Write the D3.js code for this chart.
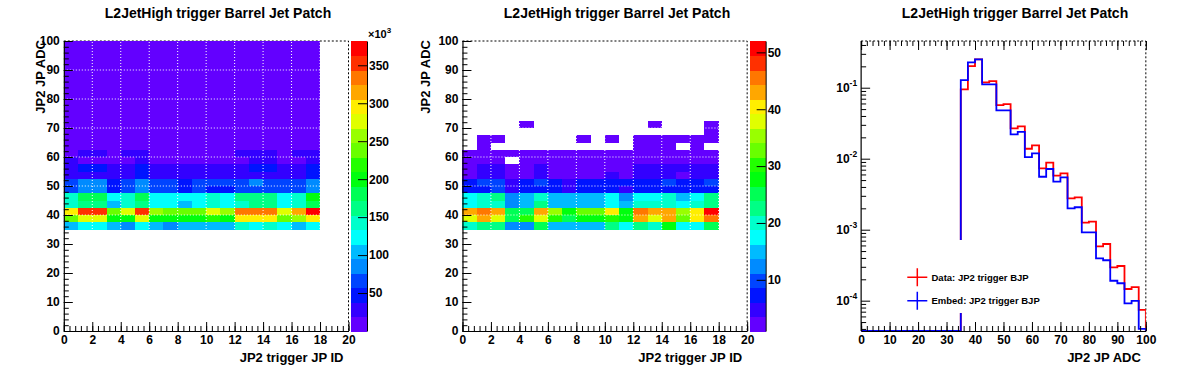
<!DOCTYPE html>
<html>
<head>
<meta charset="utf-8">
<script src="https://cdn.jsdelivr.net/npm/d3@7"></script>
<style>
  body { margin: 0; background: #fff; }
  svg text { font-family: "Liberation Sans", Arial, sans-serif; font-weight: bold; fill: #000; }
</style>
</head>
<body>
<svg id="chart" width="1196" height="372"></svg>
<script>
// ---- data ----
const jpIds = [0, 1, 2, 3, 4, 5, 6, 7, 8, 9, 10, 11, 12, 13, 14, 15, 16, 17];
const adcBins = [35, 37.5, 40, 42.5, 45, 47.5, 50, 52.5, 55, 57.5, 60, 62.5, 65, 67.5, 70,
                 72.5, 75, 77.5, 80, 82.5, 85, 87.5, 90, 92.5, 95, 97.5];
const adcBinWidth = 2.5;

// data counts per (ADC bin, JP ID), in units of 10^3
const dataCounts = [
  [105, 125, 122, 108, 88, 126, 104, 90, 106, 103, 107, 105, 145, 127, 142, 124, 106, 128],
  [238, 280, 276, 205, 202, 278, 198, 204, 201, 203, 222, 199, 297, 294, 298, 240, 259, 296],
  [295, 356, 352, 240, 279, 354, 258, 241, 238, 242, 276, 260, 336, 333, 335, 278, 316, 375],
  [144, 163, 160, 107, 146, 165, 124, 122, 108, 125, 144, 126, 145, 161, 164, 123, 142, 183],
  [146, 182, 180, 126, 143, 184, 124, 127, 123, 125, 145, 128, 163, 165, 162, 126, 147, 202],
  [68, 88, 86, 50, 66, 89, 67, 65, 52, 68, 51, 49, 67, 69, 66, 68, 67, 87],
  [70, 90, 87, 53, 70, 91, 69, 68, 55, 70, 66, 67, 68, 88, 69, 67, 70, 89],
  [32, 34, 33, 30, 31, 48, 31, 30, 29, 30, 31, 30, 32, 33, 31, 30, 32, 50],
  [28, 40, 39, 27, 26, 41, 25, 24, 23, 24, 25, 24, 26, 39, 40, 25, 26, 42],
  [21, 17, 17, 15, 16, 22, 14, 14, 13, 14, 15, 14, 16, 21, 21, 15, 16, 22],
  [16, 21, 21, 14, 20, 21, 13, 13, 12, 13, 14, 13, 20, 21, 21, 14, 20, 22],
  [9.5, 10.2, 9.8, 8.1, 9.0, 10.4, 8.3, 8.0, 7.6, 8.2, 8.9, 8.1, 9.6, 10.1, 9.9, 8.4, 9.2, 10.6],
  [11.2, 12.0, 11.5, 9.6, 10.5, 12.3, 9.8, 9.4, 9.0, 9.7, 10.4, 9.5, 11.3, 11.9, 11.6, 9.9, 10.8, 12.5],
  [7.3, 7.9, 7.6, 6.2, 6.9, 8.1, 6.4, 6.1, 5.9, 6.3, 6.8, 6.2, 7.4, 7.8, 7.6, 6.5, 7.1, 8.2],
  [8.0, 8.6, 8.2, 6.8, 7.5, 8.8, 7.0, 6.7, 6.4, 6.9, 7.4, 6.8, 8.1, 8.5, 8.3, 7.1, 7.7, 8.9],
  [3.5, 3.8, 3.6, 3.0, 3.3, 3.9, 3.1, 2.9, 2.8, 3.0, 3.2, 3.0, 3.5, 3.7, 3.6, 3.1, 3.4, 3.9],
  [3.6, 3.9, 3.7, 3.1, 3.4, 4.0, 3.2, 3.0, 2.9, 3.1, 3.3, 3.1, 3.6, 3.8, 3.7, 3.2, 3.5, 4.0],
  [1.6, 1.7, 1.6, 1.3, 1.5, 1.8, 1.4, 1.3, 1.3, 1.4, 1.5, 1.4, 1.6, 1.7, 1.6, 1.4, 1.5, 1.8],
  [1.7, 1.8, 1.7, 1.4, 1.5, 1.8, 1.4, 1.4, 1.3, 1.4, 1.5, 1.4, 1.7, 1.8, 1.7, 1.4, 1.6, 1.8],
  [0.75, 0.81, 0.77, 0.64, 0.70, 0.83, 0.66, 0.63, 0.60, 0.65, 0.69, 0.64, 0.76, 0.80, 0.78, 0.66, 0.72, 0.84],
  [0.80, 0.86, 0.82, 0.68, 0.75, 0.88, 0.70, 0.67, 0.64, 0.69, 0.74, 0.68, 0.81, 0.85, 0.83, 0.70, 0.77, 0.89],
  [0.37, 0.40, 0.38, 0.32, 0.35, 0.41, 0.33, 0.31, 0.30, 0.32, 0.34, 0.32, 0.38, 0.40, 0.39, 0.33, 0.36, 0.41],
  [0.39, 0.42, 0.40, 0.33, 0.37, 0.43, 0.34, 0.33, 0.31, 0.34, 0.36, 0.33, 0.39, 0.41, 0.40, 0.34, 0.37, 0.43],
  [0.19, 0.20, 0.19, 0.16, 0.18, 0.21, 0.16, 0.16, 0.15, 0.16, 0.17, 0.16, 0.19, 0.20, 0.19, 0.16, 0.18, 0.21],
  [0.20, 0.21, 0.20, 0.17, 0.19, 0.22, 0.17, 0.17, 0.16, 0.17, 0.18, 0.17, 0.20, 0.21, 0.20, 0.17, 0.19, 0.22],
  [0.10, 0.10, 0.10, 0.08, 0.09, 0.11, 0.08, 0.08, 0.08, 0.08, 0.09, 0.08, 0.10, 0.10, 0.10, 0.08, 0.09, 0.11]
];

// embedding counts per (ADC bin, JP ID)
const embedCounts = [
  [20, 22, 23, 12, 13, 25, 15, 14, 15, 15, 23, 17, 22, 20, 28, 18, 17, 25],
  [38, 43, 37, 25, 30, 38, 31, 24, 28, 27, 30, 28, 43, 38, 44, 33, 40, 45],
  [43, 46, 42, 25, 26, 43, 35, 28, 33, 32, 41, 27, 45, 43, 44, 35, 40, 51],
  [17, 20, 19, 12, 15, 22, 14, 15, 16, 14, 18, 15, 20, 21, 19, 17, 20, 23],
  [18, 21, 22, 13, 16, 20, 15, 14, 16, 15, 17, 12, 18, 17, 20, 15, 18, 22],
  [7, 8, 9, 5, 7, 8, 7, 5, 8, 7, 8, 5, 7, 8, 7, 8, 7, 8],
  [8, 10, 9, 5, 7, 10, 7, 5, 8, 7, 8, 7, 8, 7, 10, 7, 8, 10],
  [3, 4, 5, 3, 2, 4, 3, 2, 3, 3, 4, 3, 5, 4, 5, 3, 4, 5],
  [3, 5, 4, 2, 3, 4, 2, 3, 3, 2, 3, 3, 4, 5, 4, 4, 5, 4],
  [2, 3, 2, 0, 2, 3, 2, 2, 3, 2, 2, 2, 3, 2, 3, 2, 2, 3],
  [2, 2, 1, 2, 2, 1, 2, 1, 2, 2, 1, 2, 2, 2, 1, 2, 2, 2],
  [0, 1, 0, 0, 0, 0, 0, 0, 0, 0, 0, 0, 1, 1, 1, 0, 1, 0],
  [0, 1, 1, 0, 0, 0, 0, 0, 1, 0, 1, 0, 1, 1, 1, 1, 1, 1],
  [0, 0, 0, 0, 0, 0, 0, 0, 0, 0, 0, 0, 0, 0, 0, 0, 0, 1],
  [0, 0, 0, 0, 1, 0, 0, 0, 0, 0, 0, 0, 0, 1, 0, 0, 0, 1],
  [0, 0, 0, 0, 0, 0, 0, 0, 0, 0, 0, 0, 0, 0, 0, 0, 0, 0],
  [0, 0, 0, 0, 0, 0, 0, 0, 0, 0, 0, 0, 0, 0, 0, 0, 0, 0],
  [0, 0, 0, 0, 0, 0, 0, 0, 0, 0, 0, 0, 0, 0, 0, 0, 0, 0],
  [0, 0, 0, 0, 0, 0, 0, 0, 0, 0, 0, 0, 0, 0, 0, 0, 0, 0],
  [0, 0, 0, 0, 0, 0, 0, 0, 0, 0, 0, 0, 0, 0, 0, 0, 0, 0],
  [0, 0, 0, 0, 0, 0, 0, 0, 0, 0, 0, 0, 0, 0, 0, 0, 0, 0],
  [0, 0, 0, 0, 0, 0, 0, 0, 0, 0, 0, 0, 0, 0, 0, 0, 0, 0],
  [0, 0, 0, 0, 0, 0, 0, 0, 0, 0, 0, 0, 0, 0, 0, 0, 0, 0],
  [0, 0, 0, 0, 0, 0, 0, 0, 0, 0, 0, 0, 0, 0, 0, 0, 0, 0],
  [0, 0, 0, 0, 0, 0, 0, 0, 0, 0, 0, 0, 0, 0, 0, 0, 0, 0],
  [0, 0, 0, 0, 0, 0, 0, 0, 0, 0, 0, 0, 0, 0, 0, 0, 0, 0]
];

// normalised JP ADC spectra (same ADC bins)
const dataFrac = [0.095, 0.202, 0.251, 0.119, 0.124, 0.057, 0.0589, 0.0268, 0.0286, 0.0138,
  0.01545, 0.00733, 0.00879, 0.00576, 0.00622, 0.00277, 0.00286, 0.00126, 0.0013, 0.000583,
  0.000629, 0.000295, 0.000308, 0.000146, 0.000155, 0.000074];
const embedFrac = [0.128, 0.228, 0.251, 0.1116, 0.1116, 0.048, 0.048, 0.022, 0.0238, 0.0105,
  0.0119, 0.00557, 0.00716, 0.00474, 0.00547, 0.0020, 0.00207, 0.000918, 0.000918, 0.000395,
  0.000371, 0.000191, 0.000176, 0.0000918, 0.0000991, 0.00004];

const dataZRange = [0, 382];     // x10^3
const embedZRange = [1, 52];
const dataZTicks = [50, 100, 150, 200, 250, 300, 350];
const embedZTicks = [10, 20, 30, 40, 50];
const jpRange = [0, 20];
const adcRange = [0, 100];
const fracRange = [3.74e-5, 0.455];
const fracDecades = [1e-4, 1e-3, 1e-2, 1e-1];

const title = 'L2JetHigh trigger Barrel Jet Patch';
const legendLabels = ['Data: JP2 trigger BJP', 'Embed: JP2 trigger BJP'];
const histColors = ['#ff0000', '#0000ff'];

// ---- layout ----
const W = 1196, H = 372;
const padW = W / 3;
const fr = { l: 63.8, r: 348.5, t: 41, b: 331 };
const nLevels = 20;

const svg = d3.select('#chart');

// ROOT "pretty" palette (violet -> red), 20 contour levels
function levelColor(j) {
  const idx = Math.floor((j + 0.99) * 50 / nLevels);
  if (idx >= 49) return '#ff0000';
  return d3.hsl(280 - (idx + 1) * 5.6, 1, 0.5).formatHex();
}

function tickAxis(g, axisFn, scale, values, size) {
  g.call(axisFn(scale).tickValues(values).tickSize(size).tickSizeOuter(0).tickFormat(''));
  g.select('.domain').remove();
  g.selectAll('line').attr('stroke', '#000');
}

function drawMap(padX, counts, zRange, zTicks, yTitleX, expLabel) {
  const g = svg.append('g');
  const x = d3.scaleLinear().domain(jpRange).range([padX + fr.l, padX + fr.r]);
  const y = d3.scaleLinear().domain(adcRange).range([fr.b, fr.t]);
  const z = d3.scaleLinear().domain(zRange).range([0, nLevels]);

  // dotted frame top / right
  g.append('path')
    .attr('d', `M${x(jpRange[0])},${y(100)}H${x(20)}V${y(0)}`)
    .attr('fill', 'none').attr('stroke', '#000').attr('stroke-dasharray', '2,2');

  // cells
  const cells = [];
  adcBins.forEach((a, r) => jpIds.forEach((id, c) => {
    const v = counts[r][c];
    if (v > 0) cells.push({ a, id, v });
  }));
  g.append('g').attr('shape-rendering', 'crispEdges')
    .selectAll('rect').data(cells).join('rect')
    .attr('x', d => x(d.id))
    .attr('width', d => x(d.id + 1) - x(d.id))
    .attr('y', d => y(d.a + adcBinWidth))
    .attr('height', d => y(d.a) - y(d.a + adcBinWidth))
    .attr('fill', d => levelColor(Math.max(0, Math.min(nLevels - 1, Math.floor(z(d.v))))));

  // white dotted grid
  const grid = g.append('g').attr('stroke', '#fff').attr('stroke-dasharray', '1,2');
  [2, 4, 6, 8, 10, 12, 14, 16, 18].forEach(v => grid.append('line')
    .attr('x1', x(v)).attr('x2', x(v)).attr('y1', y(0)).attr('y2', y(100)));
  [10, 20, 30, 40, 50, 60, 70, 80, 90].forEach(v => grid.append('line')
    .attr('x1', x(0)).attr('x2', x(20)).attr('y1', y(v)).attr('y2', y(v)));

  // axes
  const xMinor = d3.range(0, 20.01, 0.4);
  const yMinor = d3.range(0, 100.01, 2);
  tickAxis(g.append('g').attr('transform', `translate(0,${fr.b})`), d3.axisBottom, x, xMinor, -5);
  tickAxis(g.append('g').attr('transform', `translate(${x(0)},0)`), d3.axisLeft, y, yMinor, -5);
  const xa = g.append('g').attr('transform', `translate(0,${fr.b})`)
    .call(d3.axisBottom(x).tickValues(d3.range(0, 21, 2)).tickSize(-9).tickSizeOuter(0).tickPadding(4));
  const ya = g.append('g').attr('transform', `translate(${x(0)},0)`)
    .call(d3.axisLeft(y).tickValues(d3.range(0, 101, 10)).tickSize(-9).tickSizeOuter(0).tickPadding(4));
  [xa, ya].forEach(a => {
    a.select('.domain').attr('stroke', '#000').attr('stroke-width', 1.2);
    a.selectAll('line').attr('stroke', '#000');
    a.selectAll('text').attr('font-size', 12).attr('fill', '#000')
      .style('font-family', '"Liberation Sans", Arial, sans-serif');
  });

  // colour bar
  const cx0 = padX + 351, cx1 = padX + 367;
  const zc = d3.scaleLinear().domain(zRange).range([fr.b, fr.t]);
  const bandH = (fr.b - fr.t) / nLevels;
  g.append('g').attr('shape-rendering', 'crispEdges')
    .selectAll('rect').data(d3.range(nLevels)).join('rect')
    .attr('x', cx0).attr('width', cx1 - cx0)
    .attr('y', j => fr.b - (j + 1) * bandH).attr('height', bandH + 0.5)
    .attr('fill', j => levelColor(j));
  const za = g.append('g').attr('transform', `translate(${cx1},0)`)
    .call(d3.axisRight(zc).tickValues(zTicks).tickSize(-9).tickSizeOuter(0).tickPadding(2));
  za.select('.domain').attr('stroke', '#000');
  za.selectAll('line').attr('stroke', '#000');
  za.selectAll('text').attr('font-size', 12).attr('fill', '#000')
    .style('font-family', '"Liberation Sans", Arial, sans-serif');
  if (expLabel) {
    const t = g.append('text').attr('x', cx1 + 1).attr('y', 37.5).attr('font-size', 11);
    t.append('tspan').text('\u00d710');
    t.append('tspan').attr('dy', -5).attr('font-size', 8).text(expLabel);
  }

  // titles
  g.append('text').attr('x', x(20) - 5).attr('y', 362).attr('text-anchor', 'end')
    .attr('font-size', 13).text('JP2 trigger JP ID');
  g.append('text').attr('transform', `translate(${padX + yTitleX},${fr.t - 1}) rotate(-90)`)
    .attr('text-anchor', 'end').attr('font-size', 13).text('JP2 JP ADC');
}

drawMap(0, dataCounts, dataZRange, dataZTicks, 45, '3');
drawMap(padW, embedCounts, embedZRange, embedZTicks, 31, null);

// ---- right pad: 1D spectra ----
(function () {
  const padX = 2 * padW;
  const g = svg.append('g');
  const x = d3.scaleLinear().domain(adcRange).range([padX + fr.l, padX + fr.r]);
  const y = d3.scaleLog().domain(fracRange).range([fr.b, fr.t]);

  g.append('path')
    .attr('d', `M${x(0)},${fr.t}H${x(100)}V${fr.b}`)
    .attr('fill', 'none').attr('stroke', '#000').attr('stroke-dasharray', '2,2');

  g.append('clipPath').attr('id', 'hclip').append('rect')
    .attr('x', x(0)).attr('y', fr.t).attr('width', x(100) - x(0)).attr('height', fr.b - fr.t + 1);

  const line = d3.line().x(d => x(d[0])).y(d => y(Math.max(d[1], fracRange[0])));
  [dataFrac, embedFrac].forEach((vals, k) => {
    const pts = [[adcRange[0], 0], [adcBins[0], 0]];
    vals.forEach((v, i) => { pts.push([adcBins[i], v]); pts.push([adcBins[i] + adcBinWidth, v]); });
    pts.push([adcBins[adcBins.length - 1] + adcBinWidth, 0]);
    g.append('path').attr('clip-path', 'url(#hclip)').attr('d', line(pts))
      .attr('fill', 'none').attr('stroke', histColors[k]).attr('stroke-width', 1.8);
  });

  // axes
  const xMinor = d3.range(0, 100.01, 2);
  const yMinor = [];
  fracDecades.concat([1e-5]).forEach(d => [2, 3, 4, 5, 6, 7, 8, 9].forEach(m => {
    const v = d * m;
    if (v > fracRange[0] && v < fracRange[1]) yMinor.push(v);
  }));
  tickAxis(g.append('g').attr('transform', `translate(0,${fr.b})`), d3.axisBottom, x, xMinor, -5);
  tickAxis(g.append('g').attr('transform', `translate(0,${fr.t})`), d3.axisTop, x, xMinor, -5);
  tickAxis(g.append('g').attr('transform', `translate(0,${fr.t})`), d3.axisTop, x, d3.range(0, 101, 10), -9);
  tickAxis(g.append('g').attr('transform', `translate(${x(0)},0)`), d3.axisLeft, y, yMinor, -5);
  tickAxis(g.append('g').attr('transform', `translate(${x(0)},0)`), d3.axisLeft, y, fracDecades, -9);

  const xa = g.append('g').attr('transform', `translate(0,${fr.b})`)
    .call(d3.axisBottom(x).tickValues(d3.range(0, 101, 10)).tickSize(-9).tickSizeOuter(0).tickPadding(4));
  xa.select('.domain').attr('stroke', '#000').attr('stroke-width', 1.2);
  xa.selectAll('line').attr('stroke', '#000');
  xa.selectAll('text').attr('font-size', 12).attr('fill', '#000')
    .style('font-family', '"Liberation Sans", Arial, sans-serif');
  g.append('line').attr('x1', x(0)).attr('x2', x(0)).attr('y1', fr.t).attr('y2', fr.b)
    .attr('stroke', '#000').attr('stroke-width', 1.2);

  fracDecades.forEach(d => {
    const t = g.append('text').attr('x', x(0) - 4).attr('y', y(d) + 4)
      .attr('text-anchor', 'end').attr('font-size', 12);
    t.append('tspan').text('10');
    t.append('tspan').attr('dy', -6).attr('font-size', 8.5).text(String(Math.round(Math.log10(d))));
  });

  // legend
  const lg = g.append('g');
  lg.append('rect').attr('x', 902).attr('y', 240).attr('width', 114).attr('height', 73).attr('fill', '#fff');
  legendLabels.forEach((lab, k) => {
    const cy = 277.3 + k * 23.4, cx = 917.3;
    lg.append('path').attr('d', `M${cx - 10},${cy}H${cx + 10}M${cx},${cy - 9}V${cy + 9}`)
      .attr('stroke', histColors[k]).attr('stroke-width', 1.5);
    lg.append('text').attr('x', 931.5).attr('y', cy + 3.5).attr('font-size', 9.5).text(lab);
  });

  g.append('text').attr('x', x(100) - 5).attr('y', 362).attr('text-anchor', 'end')
    .attr('font-size', 13).text('JP2 JP ADC');
})();

// pad titles
[218, 617, 1015].forEach(cx => svg.append('text').attr('x', cx).attr('y', 18)
  .attr('text-anchor', 'middle').attr('font-size', 14).text(title));
</script>
</body>
</html>
